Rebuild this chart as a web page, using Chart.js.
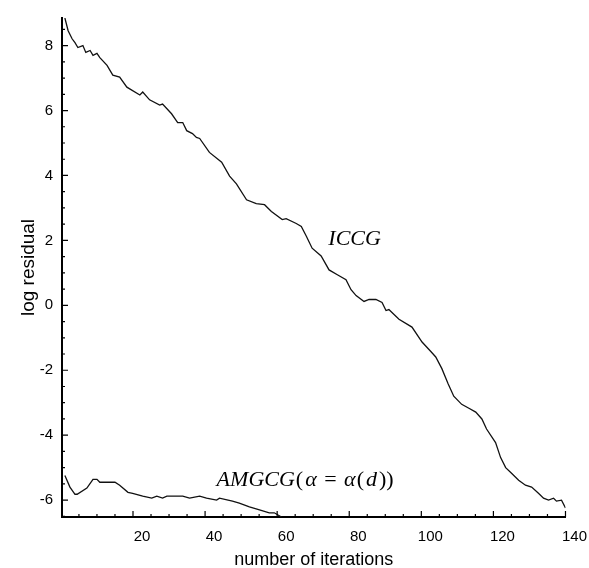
<!DOCTYPE html>
<html><head><meta charset="utf-8">
<script src="https://cdn.jsdelivr.net/npm/chart.js@4/dist/chart.umd.min.js"></script>
<style>html,body{margin:0;padding:0;background:#fff}</style>
</head><body>
<canvas id="c" width="589" height="568"></canvas>
<script>
// ---- data ----
const iccgX = [1.1,2.0,3.1,3.9,4.7,6.1,6.9,8.1,8.9,10.0,10.8,12.8,14.4,16.3,18.3,21.9,22.7,24.6,27.4,28.2,30.7,32.4,33.8,34.9,36.5,37.6,38.5,41.2,44.6,46.8,48.7,51.5,54.2,56.5,58.4,61.4,62.5,65.3,66.7,68.1,69.7,72.2,74.4,76.7,79.1,80.5,81.9,84.1,85.5,87.4,89.1,90.2,91.0,93.8,97.4,100.2,102.7,104.0,105.7,107.4,109.0,111.2,113.2,115.1,116.8,118.1,120.6,122.0,123.4,125.1,127.0,128.9,130.6,132.5,133.9,135.3,136.7,137.5,138.9,140.0];
const iccgY = [8.85,8.46,8.21,8.09,7.94,8.00,7.79,7.85,7.70,7.76,7.63,7.39,7.09,7.03,6.72,6.48,6.57,6.33,6.17,6.20,5.90,5.63,5.63,5.38,5.29,5.17,5.14,4.71,4.41,3.98,3.74,3.25,3.13,3.10,2.89,2.64,2.67,2.52,2.43,2.13,1.76,1.52,1.09,0.94,0.79,0.48,0.30,0.12,0.18,0.18,0.09,-0.16,-0.13,-0.43,-0.67,-1.13,-1.43,-1.59,-1.95,-2.41,-2.80,-3.05,-3.17,-3.29,-3.50,-3.81,-4.23,-4.69,-5.00,-5.18,-5.39,-5.54,-5.60,-5.79,-5.94,-6.00,-5.94,-6.03,-6.00,-6.24];
const amgX = [1.1,2.5,3.9,4.5,7.2,8.9,10.0,10.8,15.0,16.3,18.6,19.9,22.7,25.2,26.6,28.2,29.4,33.8,35.7,38.5,40.4,43.2,44.0,47.6,49.5,52.3,55.1,57.8,59.2,61.2];
const amgY = [-5.24,-5.60,-5.82,-5.82,-5.63,-5.36,-5.36,-5.45,-5.45,-5.54,-5.76,-5.79,-5.88,-5.94,-5.88,-5.94,-5.88,-5.88,-5.94,-5.88,-5.94,-6.00,-5.94,-6.03,-6.09,-6.21,-6.30,-6.39,-6.39,-6.52];
const xTickLabels = [20,40,60,80,100,120,140];
const yTickLabels = [-6,-4,-2,0,2,4,6,8];
const xMinorTicks = [5,10,15,25,30,35,45,50,55,65,70,75,85,90,95,105,110,115,125,130,135];
const yMinorTicks = [-6.5,-5.5,-5,-4.5,-3.5,-3,-2.5,-1.5,-1,-0.5,0.5,1,1.5,2.5,3,3.5,4.5,5,5.5,6.5,7,7.5,8.5];
const xTitle = 'number of iterations';
const yTitle = 'log residual';
const labelICCG = 'ICCG';

const sans = '"Liberation Sans", Arial, sans-serif';
const serif = '"Liberation Serif", "Times New Roman", serif';

const decor = {
  id: 'decor',
  afterDraw(chart) {
    const {ctx, chartArea: a, scales: {x, y}} = chart;
    ctx.save();
    ctx.strokeStyle = '#000';
    ctx.lineWidth = 1.2;
    ctx.beginPath();
    const xt = (v, len) => { const p = x.getPixelForValue(v); ctx.moveTo(p, a.bottom); ctx.lineTo(p, a.bottom - len); };
    const yt = (v, len) => { const p = y.getPixelForValue(v); ctx.moveTo(a.left, p); ctx.lineTo(a.left + len, p); };
    xMinorTicks.forEach(v => xt(v, 3));
    xTickLabels.forEach(v => xt(v, 6));
    yMinorTicks.forEach(v => yt(v, 3));
    yTickLabels.forEach(v => yt(v, 6));
    ctx.stroke();

    ctx.fillStyle = '#000';
    ctx.textBaseline = 'alphabetic';
    ctx.textAlign = 'left';
    const it = 'italic 22px ' + serif, up = '22px ' + serif;
    ctx.font = it;
    ctx.fillText(labelICCG, x.getPixelForValue(74.2), y.getPixelForValue(1.85));

    const parts = [['AMGCG', it, 1], ['(', up, 2], ['\u03B1', it, 2], [' = ', up, 2], ['\u03B1', it, 1], ['(', up, 2], ['d', it, 2], ['))', up, 0]];
    let px = x.getPixelForValue(43.2);
    const py = y.getPixelForValue(-5.57);
    parts.forEach(([t, f, g]) => { ctx.font = f; ctx.fillText(t, px, py); px += ctx.measureText(t).width + g; });
    ctx.restore();
  }
};

new Chart(document.getElementById('c'), {
  type: 'line',
  data: {
    datasets: [
      { data: iccgX.map((v, i) => ({x: v, y: iccgY[i]})), borderColor: '#111', borderWidth: 1.3, pointRadius: 0, fill: false, tension: 0 },
      { data: amgX.map((v, i) => ({x: v, y: amgY[i]})), borderColor: '#111', borderWidth: 1.3, pointRadius: 0, fill: false, tension: 0 }
    ]
  },
  options: {
    responsive: false, animation: false, devicePixelRatio: 1,
    layout: { padding: { top: 12, right: 22, left: 0, bottom: 0 } },
    plugins: { legend: { display: false }, tooltip: { enabled: false } },
    scales: {
      x: {
        type: 'linear', min: 0.3, max: 140,
        afterBuildTicks: s => { s.ticks = xTickLabels.map(v => ({value: v})); },
        afterFit: s => { s.height = 51; },
        grid: { display: true, drawOnChartArea: false, drawTicks: false },
        border: { display: true, color: '#000', width: 2 },
        ticks: { color: '#000', font: { family: sans, size: 15 }, padding: 11, labelOffset: 9, maxRotation: 0, autoSkip: false },
        title: { display: true, text: xTitle, color: '#000', font: { family: sans, size: 18 }, padding: { top: 0, bottom: -3 } }
      },
      y: {
        type: 'linear', min: -6.52, max: 8.85,
        afterBuildTicks: s => { s.ticks = yTickLabels.map(v => ({value: v})); },
        afterFit: s => { s.width = 62; },
        grid: { display: true, drawOnChartArea: false, drawTicks: false },
        border: { display: true, color: '#000', width: 2 },
        ticks: { color: '#000', font: { family: sans, size: 15 }, padding: 9, autoSkip: false },
        title: { display: true, text: yTitle, color: '#000', font: { family: sans, size: 19 }, padding: { top: 17, bottom: 0 } }
      }
    }
  },
  plugins: [decor]
});
</script>
</body></html>
